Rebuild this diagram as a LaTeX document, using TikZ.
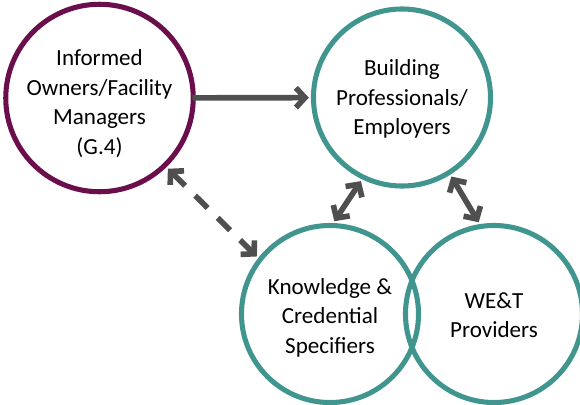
\documentclass[tikz,border=0pt]{standalone}
\usepackage{fontspec}
\setmainfont{Carlito}
\usepackage{tikz}
\usetikzlibrary{arrows.meta,shapes}
\definecolor{ownerpurple}{HTML}{6A0F4B}
\definecolor{groupteal}{HTML}{40968F}
\definecolor{linkgray}{HTML}{4F4F4F}
\newcommand{\circtext}[2]{\raisebox{-#1}[\height][\depth]{\begin{tabular}{@{}c@{}}#2\end{tabular}}}
\tikzstyle{vertex}=[circle,draw,line width=3.6pt,minimum size=4.425cm,inner sep=0pt,font=\fontsize{16.4}{21}\selectfont]
\tikzstyle{owner}=[vertex,draw=ownerpurple]
\tikzstyle{group}=[vertex,draw=groupteal]
\tikzstyle{edge} = [draw,linkgray,line width=4pt,shorten <=1.5pt,shorten >=1.5pt]
\tikzset{>={Straight Barb[length=6.5pt,width=14pt]}}

\begin{document}
\begin{tikzpicture}[x=0.025cm,y=-0.025cm]
    \useasboundingbox (0,0) rectangle (580,404);
    % First we draw the circles
    \node[owner] (owners) at (99.5,98) {\circtext{0.15cm}{Informed\\Owners/Facility\\Managers\\(G.4)}};
    \node[group] (build) at (402,97.5) {\circtext{0.05cm}{Building\\Professionals/\\Employers}};
    \node[group] (know) at (330,314) {\circtext{0.1cm}{Knowledge \&\\Credential\\Specifiers}};
    \node[group] (we) at (494,314) {\circtext{0.08cm}{WE\&T\\Providers}};

    % Connect circles with arrows
    \path[edge,->,shorten <=-2.5pt] (owners) -- (build);
    \path[edge,<->,dash pattern=on 12.5pt off 10pt] (owners.314) -- (know.142);
    \foreach \source/\dest in {know.88/build.244, build.302/we.99}
        \path[edge,<->] (\source) -- (\dest);
\end{tikzpicture}
\end{document}
